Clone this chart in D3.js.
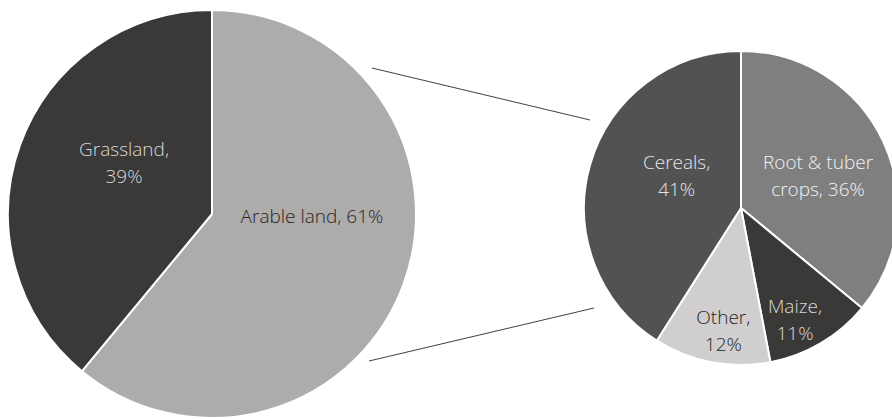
<!DOCTYPE html>
<html>
<head>
<meta charset="utf-8">
<script src="https://cdn.jsdelivr.net/npm/d3@7"></script>
<style>
  body { margin: 0; background: #fff; }
  svg { display: block; }
  text { font-family: "Open Sans", "Noto Sans", sans-serif; font-weight: 300; font-size: 19px; }
</style>
</head>
<body>
<div id="chart"></div>
<script>
// land use split (main pie)
var landCategories = ['Arable land', 'Grassland'];
var landValues = [61, 39];
// arable land breakdown (secondary pie)
var cropCategories = ['Root & tuber crops', 'Maize', 'Other', 'Cereals'];
var cropValues = [36, 11, 12, 41];

(function pieOfPie(){

  var width = 892, height = 419;

  var svg = d3.select('#chart')
    .append('svg')
    .attr('width', width)
    .attr('height', height);

  var pie = d3.pie().sort(null).value(function(d){ return d.value; });

  function zip(cats, vals){
    return cats.map(function(c, i){ return {name: c, value: vals[i]}; });
  }

  // label text lines, colours, nudges from arc centroid
  var style = {
    'Arable land':        {fill: '#aeabab', text: '#262626', lines: function(d){ return [d.name + ', ' + d.value + '%']; }, dx: 4,  dy: -33},
    'Grassland':          {fill: '#3b3838', text: '#d9d9d9', lines: function(d){ return [d.name + ',', d.value + '%']; }, dx: 8,  dy: -17},
    'Root & tuber crops': {fill: '#7f7f7f', text: '#f2f2f2', lines: function(d){ return ['Root & tuber', 'crops, ' + d.value + '%']; }, dx: 6, dy: 1},
    'Maize':              {fill: '#3b3838', text: '#d9d9d9', lines: function(d){ return [d.name + ',', d.value + '%']; }, dx: 14, dy: 44},
    'Other':              {fill: '#d0cece', text: '#262626', lines: function(d){ return [d.name + ',', d.value + '%']; }, dx: -3, dy: 45},
    'Cereals':            {fill: '#525252', text: '#e7e6e6', lines: function(d){ return [d.name + ',', d.value + '%']; }, dx: 11, dy: -11}
  };

  function drawPie(data, cx, cy, r){
    var arc = d3.arc().innerRadius(0).outerRadius(r);
    var g = svg.append('g').attr('transform', 'translate(' + cx + ',' + cy + ')');
    var arcs = pie(data);

    g.selectAll('path')
      .data(arcs)
      .enter()
      .append('path')
      .attr('d', arc)
      .attr('fill', function(d){ return style[d.data.name].fill; })
      .attr('stroke', '#fff')
      .attr('stroke-width', 2)
      .attr('stroke-linejoin', 'round');

    var lineH = 27;
    g.selectAll('text.lbl')
      .data(arcs)
      .enter()
      .append('text')
      .attr('class', 'lbl')
      .attr('text-anchor', 'middle')
      .attr('fill', function(d){ return style[d.data.name].text; })
      .each(function(d){
        var s = style[d.data.name];
        var c = arc.centroid(d);
        var lines = s.lines(d.data);
        var t = d3.select(this);
        var y0 = c[1] + s.dy - (lines.length - 1) * lineH / 2 + 7;
        lines.forEach(function(l, i){
          t.append('tspan')
            .attr('x', c[0] + s.dx)
            .attr('y', y0 + i * lineH)
            .text(l);
        });
      });

    return {cx: cx, cy: cy, r: r, arcs: arcs};
  }

  drawPie(zip(landCategories, landValues), 212, 214, 204);
  drawPie(zip(cropCategories, cropValues), 741, 208, 157);

  // connector lines from main pie to secondary pie
  var conn = [
    [[372, 68], [590, 120]],
    [[369, 361], [594, 308]]
  ];
  svg.selectAll('line.conn')
    .data(conn)
    .enter()
    .append('line')
    .attr('class', 'conn')
    .attr('x1', function(d){ return d[0][0]; })
    .attr('y1', function(d){ return d[0][1]; })
    .attr('x2', function(d){ return d[1][0]; })
    .attr('y2', function(d){ return d[1][1]; })
    .attr('stroke', '#404040')
    .attr('stroke-width', 1);

})();
</script>
</body>
</html>
